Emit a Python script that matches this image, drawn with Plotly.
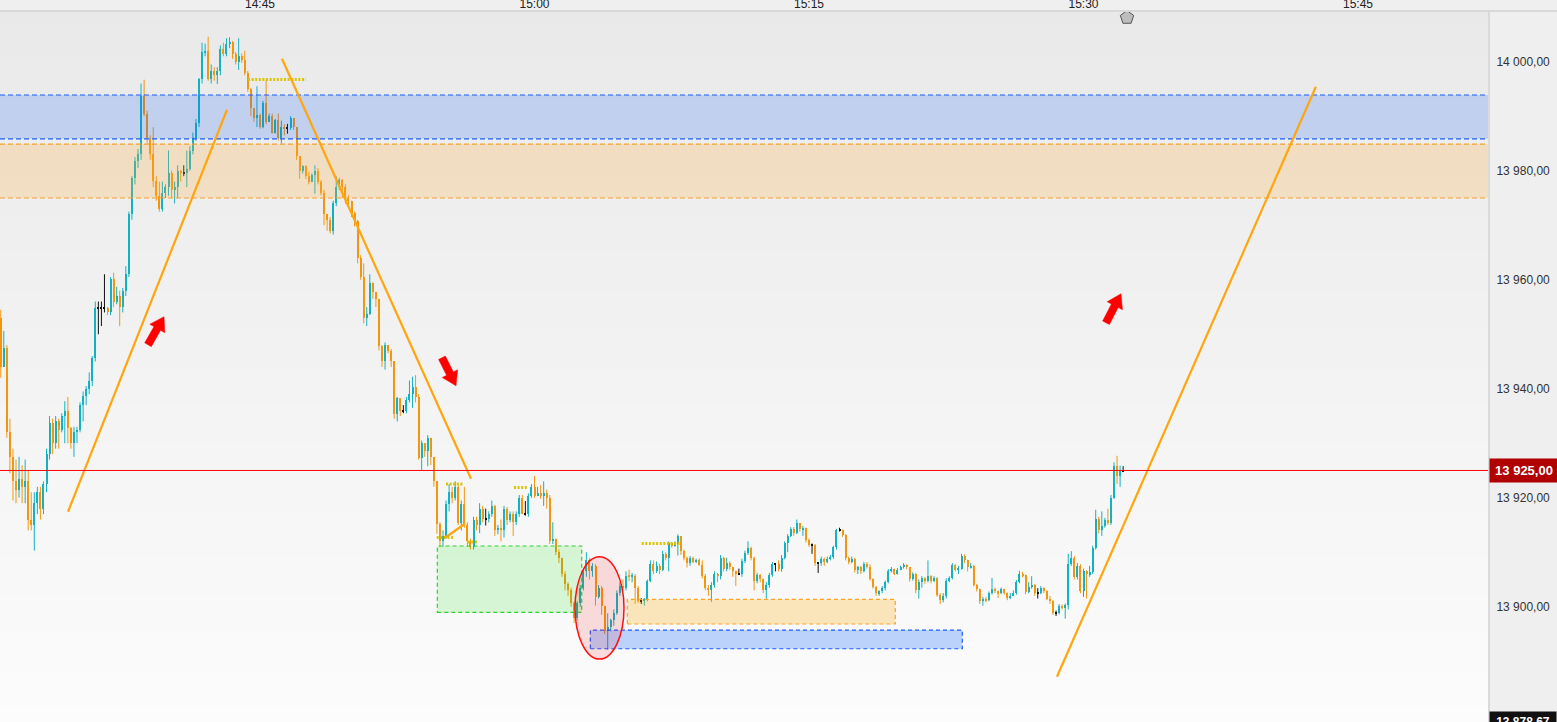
import math
import plotly.graph_objects as go
import pandas as pd

# ---------------- data (10-second candles) ----------------
start_time = "2024-03-15 14:30:50"
bar_seconds = 10
first_open = 13953.0

closes = [
    13944, 13947.5, 13932, 13927.5, 13923, 13921.5, 13923.5, 13922, 13923, 13916,
    13915, 13919, 13921, 13918, 13922.5, 13928, 13933.8, 13930, 13934, 13932.5,
    13935, 13936, 13932.8, 13930, 13932, 13932.5, 13937, 13938.7, 13940, 13941.5,
    13945.6, 13954.9, 13954.9, 13954.9, 13954.9, 13954, 13960.2, 13956, 13957, 13955,
    13958, 13961, 13972, 13978.7, 13981.8, 13983, 13993.8, 13990.5, 13986, 13983,
    13978.2, 13975.4, 13973, 13976, 13977, 13979.5, 13976.5, 13977, 13980, 13979.6,
    13979.6, 13980.3, 13983.7, 13986, 13988.8, 13996.9, 14001.7, 14002, 13996.9, 13998.3,
    13997.5, 13998.3, 14002.4, 14001.5, 14003.3, 14003.6, 14001.5, 14000, 14001, 14000.3,
    13998, 13995, 13991.5, 13989.7, 13990.3, 13988, 13992.5, 13989, 13990, 13987,
    13989.4, 13986, 13988, 13987.8, 13987.8, 13989.7, 13988, 13982.7, 13980, 13980.8,
    13979, 13978, 13979.2, 13980, 13978, 13976, 13972, 13971, 13969, 13974,
    13977, 13978.3, 13977, 13975, 13974.5, 13972.3, 13970.8, 13964, 13960.5, 13953,
    13953.8, 13959.4, 13957.8, 13956.5, 13947.8, 13945, 13948, 13947, 13945, 13935.4,
    13938.3, 13936, 13936, 13938, 13939, 13940.3, 13938.5, 13927.3, 13930, 13928.5,
    13931, 13927.5, 13923, 13915.2, 13912, 13913, 13918.9, 13921, 13920, 13922,
    13915.4, 13918.9, 13915, 13912, 13911, 13916, 13915, 13918, 13916.1, 13916.1,
    13917, 13918.5, 13914, 13914.5, 13914, 13918, 13916, 13917, 13915.5, 13917,
    13920, 13917.1, 13917.1, 13920.3, 13922, 13920.4, 13920.9, 13920.3, 13920.9, 13920,
    13912, 13912.5, 13910, 13909, 13906, 13904.2, 13903, 13900.7, 13898, 13900.7,
    13903.5, 13906.5, 13908.5, 13906.5, 13907.5, 13901.7, 13903.5, 13900.2, 13895.6, 13896.2,
    13897.5, 13898.9, 13902.5, 13903.8, 13903.5, 13905.7, 13905.5, 13905.7, 13903.5, 13901.1,
    13901.1, 13901.3, 13904.8, 13907.9, 13906.5, 13907.5, 13906.8, 13909.7, 13909, 13911.7,
    13911.2, 13911.5, 13912.9, 13910.2, 13909, 13908, 13909, 13908.3, 13908.5, 13907.7,
    13905.7, 13903.5, 13903, 13904, 13906, 13905.7, 13909, 13907, 13908, 13907.2,
    13906.5, 13906, 13906, 13908.4, 13909.9, 13910.8, 13909, 13904.8, 13905.9, 13905,
    13903, 13904, 13905.9, 13907.8, 13907.8, 13907, 13909, 13911.7, 13913, 13914.3,
    13913.5, 13915.3, 13914.2, 13914.5, 13912.3, 13911.4, 13911.4, 13908, 13908, 13908.8,
    13908.2, 13908.8, 13909.2, 13910.9, 13914, 13914, 13913.2, 13909, 13908.3, 13908.8,
    13906.8, 13907.2, 13906.5, 13907.8, 13907.3, 13905, 13903.7, 13902.5, 13902.8, 13903.5,
    13904.5, 13906.5, 13906.9, 13906, 13906.7, 13907.2, 13907.6, 13907.2, 13905, 13906,
    13903, 13904.5, 13905.2, 13904.7, 13905.6, 13904.8, 13905.2, 13902.2, 13901.2, 13902,
    13904.8, 13905.2, 13907.6, 13906.8, 13907, 13909.4, 13908.5, 13907.2, 13907.5, 13904,
    13903.2, 13901, 13901.5, 13901.2, 13902.5, 13903.2, 13902.8, 13902.5, 13903.2, 13902.5,
    13901.6, 13902, 13902.5, 13904.5, 13906, 13905.8, 13902.7, 13903.6, 13904, 13902.5,
    13902.5, 13903.5, 13902.9, 13901.5, 13901, 13898.9, 13898.9, 13900.2, 13899.8, 13900.3,
    13907.9, 13909, 13905.5, 13907.5, 13902.9, 13906.6, 13906, 13906.3, 13910.8, 13916.1,
    13914, 13914.9, 13916, 13915.4, 13920, 13925.9, 13924, 13925, 13925,
]

highs = [
    13954.5, 13950.6, 13948, 13934.5, 13929, 13927, 13927.5, 13926, 13927, 13925,
    13921, 13921, 13922, 13922, 13923, 13929, 13935, 13934.5, 13935, 13934.5,
    13935.5, 13937.7, 13938.5, 13933, 13933, 13933, 13937.5, 13939.5, 13940.5, 13943,
    13946, 13956, 13956, 13956, 13961, 13955, 13960.5, 13961.3, 13958.7, 13958,
    13958.5, 13962.5, 13972.5, 13979, 13982.5, 13984, 13996, 13996.7, 13991, 13986.5,
    13988, 13979, 13978, 13978, 13977.5, 13983.7, 13980, 13978, 13981, 13980.2,
    13981, 13983.7, 13984.5, 13987, 13989.5, 13997, 14003.5, 14003.3, 14004.6, 13999.5,
    13999, 13999, 14003, 14003.5, 14004.3, 14004.5, 14003.8, 14001.8, 14004.3, 14001.5,
    14002, 13998.3, 13995.2, 13991.5, 13995.5, 13990.5, 13992.8, 13996.8, 13990.5, 13990.5,
    13989.5, 13990.5, 13989.2, 13988.5, 13988.6, 13990, 13989.7, 13988, 13982.7, 13981,
    13981, 13979.8, 13979.5, 13981, 13980.5, 13978.3, 13976.5, 13972, 13971.5, 13974.5,
    13979, 13978.7, 13978.5, 13977.5, 13975.5, 13974.5, 13972.5, 13971, 13964.5, 13963,
    13955, 13961, 13959.5, 13957.8, 13956.5, 13948, 13948.5, 13948, 13947.3, 13945,
    13938.5, 13938.3, 13937, 13938.5, 13941.5, 13942.2, 13942.5, 13939, 13930.5, 13930,
    13931.5, 13931, 13927.5, 13923, 13915.5, 13914, 13919.5, 13922.5, 13922, 13923,
    13922.5, 13919.5, 13922, 13915.5, 13912.5, 13916.5, 13916.5, 13919, 13918.5, 13918,
    13917.5, 13919.5, 13918.7, 13915, 13916, 13918.5, 13918.3, 13917.5, 13917.5, 13917.5,
    13920.5, 13920.5, 13919.4, 13920.8, 13922.5, 13924, 13922, 13922.3, 13923, 13921.5,
    13920.5, 13915.5, 13912.5, 13910.5, 13909, 13906.5, 13904.5, 13903.5, 13901, 13901,
    13904, 13907, 13910, 13909, 13908, 13907.8, 13904, 13903.8, 13900.2, 13898.8,
    13897.8, 13899.5, 13903, 13904.5, 13905, 13906.5, 13906.8, 13906.2, 13906, 13903.8,
    13901.6, 13901.6, 13905, 13908.5, 13908.5, 13908.3, 13907.9, 13910.3, 13910, 13912,
    13911.9, 13912, 13913.3, 13913, 13910.5, 13909.2, 13909.3, 13909.2, 13908.8, 13908.9,
    13908.5, 13906, 13904, 13904.5, 13906.5, 13906.2, 13909.5, 13909.2, 13909, 13908.3,
    13907.3, 13906.6, 13907, 13908.8, 13910.3, 13912, 13911, 13909.2, 13906.2, 13906,
    13905.2, 13904.5, 13906.2, 13908.2, 13908, 13908.5, 13909.5, 13912, 13913.3, 13914.6,
    13914.6, 13916, 13915.4, 13914.8, 13914.5, 13912.5, 13911.6, 13911.5, 13908.2, 13909.2,
    13909, 13909.2, 13909.5, 13911.2, 13914.3, 13914.5, 13914.2, 13913.3, 13909.2, 13909.2,
    13909, 13907.5, 13907.5, 13908.2, 13908.2, 13907.8, 13905.2, 13903.8, 13903, 13903.8,
    13904.8, 13906.9, 13907.3, 13907, 13907.1, 13907.5, 13908, 13907.8, 13907.3, 13906.3,
    13906.2, 13905, 13905.6, 13905.4, 13908.5, 13905.8, 13905.6, 13905.4, 13902.5, 13902.5,
    13905.2, 13905.6, 13908, 13907.8, 13907.5, 13909.7, 13909.6, 13908.6, 13908, 13907.7,
    13904.2, 13903.3, 13901.8, 13901.8, 13902.8, 13905.3, 13903.5, 13903, 13903.5, 13903.3,
    13902.6, 13902.5, 13903, 13904.9, 13906.6, 13906.4, 13905.9, 13904.5, 13905.6, 13904.2,
    13903.4, 13903.8, 13903.6, 13903, 13902, 13901.2, 13899.3, 13900.5, 13900.4, 13900.6,
    13909.7, 13910.2, 13909.3, 13908, 13907.8, 13907, 13906.7, 13907.5, 13911.2, 13917.8,
    13916.5, 13917.5, 13916.3, 13918, 13920.5, 13926.5, 13927.7, 13925.9, 13925.8,
]

lows = [
    13942, 13944, 13931, 13924.5, 13919.5, 13919, 13920, 13919, 13919, 13914,
    13914, 13910.3, 13917, 13916, 13917, 13921, 13927, 13928, 13929, 13929,
    13932, 13930, 13930, 13929, 13927.5, 13930, 13932, 13934, 13937, 13939,
    13940.5, 13945, 13950, 13951.5, 13954, 13953.5, 13953.5, 13955, 13955.5, 13951.5,
    13954, 13957, 13960.5, 13971, 13977.5, 13980.5, 13982, 13990, 13985, 13982,
    13977, 13974.5, 13972.5, 13972.5, 13975, 13975.4, 13975, 13974, 13975, 13978,
    13979, 13977, 13980, 13983, 13985.5, 13988, 13996, 14001, 13996.5, 13996,
    13996.5, 13995.9, 13997.5, 14001, 14001, 14002.5, 14000.5, 13999.5, 13998.5, 13999.8,
    13997.5, 13994.5, 13990, 13989, 13988, 13987.7, 13987.8, 13988.5, 13989, 13986.8,
    13986.8, 13985.5, 13985, 13986.5, 13986.8, 13987.5, 13987.5, 13982, 13978.5, 13979.5,
    13978.5, 13977.5, 13978, 13975.8, 13977.5, 13975.5, 13970, 13969, 13968.5, 13968.3,
    13973.5, 13976.5, 13975, 13974, 13973.5, 13971.5, 13969.8, 13963, 13960, 13952,
    13951.5, 13953.5, 13956.5, 13955, 13947, 13944, 13943.5, 13946.5, 13944, 13934.5,
    13934, 13935, 13935.5, 13935.5, 13937.5, 13936.5, 13937.5, 13927, 13925, 13927.5,
    13925.8, 13926, 13922, 13913.4, 13911, 13911, 13912.5, 13917.5, 13919, 13919.5,
    13915, 13914, 13914.5, 13911, 13910.5, 13910.5, 13914, 13913.5, 13915.5, 13914.9,
    13915.5, 13916.5, 13913, 13913.3, 13912, 13912.7, 13915, 13915.5, 13913, 13915,
    13916.5, 13917, 13916.7, 13916.5, 13920, 13920, 13920.3, 13919.8, 13918.5, 13918,
    13911.5, 13911.5, 13909.5, 13908, 13905.5, 13903, 13902, 13900, 13897, 13897.5,
    13900, 13903, 13905.5, 13905, 13905.5, 13900.2, 13901.5, 13898.5, 13895, 13892.1,
    13895.5, 13896.5, 13898.5, 13902, 13903, 13903, 13904.7, 13904.5, 13900.5, 13900.7,
    13900.5, 13900.2, 13901, 13904.5, 13906, 13906.2, 13906, 13906.5, 13908.5, 13906.5,
    13910.8, 13911, 13909.4, 13909.5, 13908.5, 13907.2, 13907.5, 13908, 13908, 13907.5,
    13905.2, 13903, 13902, 13900.9, 13903.5, 13904.5, 13905, 13906.5, 13906.5, 13906.8,
    13905.5, 13903.8, 13905.8, 13905.5, 13908, 13909.5, 13908.5, 13903, 13904.3, 13904.5,
    13902.5, 13901.5, 13903.5, 13905.5, 13906.5, 13906.5, 13906.4, 13908.7, 13910, 13912.8,
    13913, 13913.3, 13913.8, 13913, 13911.8, 13911, 13909.7, 13907.5, 13906.2, 13907.5,
    13907.5, 13908, 13908.5, 13908.8, 13910.5, 13913.8, 13912.8, 13908.5, 13907.8, 13908,
    13906.3, 13906, 13906, 13906.3, 13907, 13904.8, 13903.3, 13902, 13902, 13902.5,
    13903, 13904.3, 13906.3, 13905.8, 13905.9, 13906.7, 13907, 13906.9, 13904.6, 13904.8,
    13902.5, 13901.5, 13903.5, 13904.2, 13904.5, 13904.3, 13904.5, 13901.8, 13900.5, 13900.8,
    13901.5, 13904.5, 13905, 13906.5, 13906, 13906.8, 13908, 13906.5, 13907, 13903.7,
    13902.8, 13900.5, 13900.2, 13900.8, 13901, 13902.2, 13902.5, 13901.6, 13902.3, 13902.2,
    13901.2, 13901.4, 13902, 13902.2, 13904.3, 13905.4, 13902.3, 13902.5, 13903.3, 13902,
    13901.5, 13902.3, 13902.5, 13901.2, 13900.5, 13898.5, 13898.3, 13898.6, 13899.5, 13897.8,
    13899.5, 13907.5, 13905, 13905, 13902.5, 13901.8, 13901.5, 13905.5, 13906, 13910.5,
    13913.5, 13913, 13914.5, 13915, 13915, 13919.8, 13922.5, 13922, 13925,
]

current_price = 13925.0
bottom_label_value = 13878.67
axis_min, axis_max = 13878.85, 14009.31
x_start, x_end = "2024-03-15 14:30:47.5", "2024-03-15 15:52:09.5"
y_ticks_step = 20

# zones (price bands across the full chart)
band_blue = (13985.85, 13993.9)
band_orange = (13975.0, 13984.9)

# drawn trend lines: (t0, p0, t1, p1)
trend_lines = [
    ("2024-03-15 14:34:30.5", 13917.43, "2024-03-15 14:43:11.8", 13991.19),
    ("2024-03-15 14:46:12", 14000.55, "2024-03-15 14:56:31.8", 13923.49),
    ("2024-03-15 15:28:33", 13887.16, "2024-03-15 15:42:42", 13995.41),
    ("2024-03-15 14:55:06.6", 13912.66, "2024-03-15 14:56:12", 13915.23),
]
# yellow dotted level markers: (t0, t1, price)
dotted_levels = [
    ("2024-03-15 14:44:20.7", "2024-03-15 14:47:30.8", 13996.75),
    ("2024-03-15 14:55:09.8", "2024-03-15 14:56:05.6", 13922.5),
    ("2024-03-15 14:54:39.4", "2024-03-15 14:55:36.1", 13912.7),
    ("2024-03-15 14:56:21", "2024-03-15 14:56:53.8", 13911.9),
    ("2024-03-15 14:58:52.8", "2024-03-15 14:59:34.4", 13921.9),
    ("2024-03-15 15:05:51.5", "2024-03-15 15:08:02.6", 13911.6),
]
# rectangles: (t0, t1, p0, p1, fill, border)
boxes = [
    ("2024-03-15 14:54:41.3", "2024-03-15 15:02:34.8", 13898.95, 13911.14,
     "rgba(0,230,0,0.14)", "#2ed12e"),
    ("2024-03-15 15:05:04.3", "2024-03-15 15:19:43", 13896.83, 13901.34,
     "rgba(255,170,0,0.25)", "#ffa31a"),
    ("2024-03-15 15:03:03", "2024-03-15 15:23:22.6", 13892.29, 13895.72,
     "rgba(0,95,255,0.25)", "#1a5cff"),
]
ellipse = ("2024-03-15 15:02:12.8", "2024-03-15 15:04:53.4", 13890.4, 13909.17)
# red arrows: (tip time, tip price, tail offset x px, tail offset y px)
arrows = [
    ("2024-03-15 14:39:45.2", 13953.21, -16, 28),
    ("2024-03-15 14:55:42.6", 13940.55, -14, -28),
    ("2024-03-15 15:32:03", 13957.43, -15, 29),
]
now_marker = ("2024-03-15 15:32:22.6", 14008.1)

UP = "#13b2c1"
DOWN = "#f3960f"
DOJI = "#111111"
FONT = "Liberation Sans, Arial, sans-serif"

FIG_W, FIG_H = 1557, 722
M_R, M_T = 68, 11
PLOT_W, PLOT_H = FIG_W - M_R, FIG_H - M_T


def fmt(v):
    return f"{v:,.2f}".replace(",", " ").replace(".", ",")


n = len(closes)
assert len(highs) == n and len(lows) == n
times = list(pd.date_range(start_time, periods=n, freq=f"{bar_seconds}s"))
opens = [first_open] + closes[:-1]

bases, heights, colors = [], [], []
wicks = {UP: ([], []), DOWN: ([], []), DOJI: ([], [])}
for t, o, h, l, c in zip(times, opens, highs, lows, closes):
    if abs(c - o) < 0.05:
        col = DOJI
    elif c > o:
        col = UP
    else:
        col = DOWN
    lo, hi = min(o, c), max(o, c)
    if hi - lo < 0.2:
        mid = (hi + lo) / 2
        lo, hi = mid - 0.1, mid + 0.1
    bases.append(lo)
    heights.append(hi - lo)
    colors.append(col)
    wx, wy = wicks[col]
    wx += [t, t, None]
    wy += [min(l, lo), max(h, hi), None]

fig = go.Figure()

# vertical background gradient of the plotting area (heatmap layer sits below bars)
grad_rows = 48
pad = pd.Timedelta(minutes=2)
grad_y = [axis_min - 1 + (axis_max - axis_min + 2) * i / (grad_rows - 1)
          for i in range(grad_rows)]
fig.add_trace(go.Heatmap(
    x=[pd.Timestamp(x_start) - pad, pd.Timestamp(x_end) + pad],
    y=grad_y,
    z=[[i / (grad_rows - 1)] * 2 for i in range(grad_rows)],
    colorscale=[[0, "#fcfcfc"], [1, "#e9e9e9"]],
    showscale=False, zsmooth="best", hoverinfo="skip",
))

fig.add_trace(go.Bar(x=times, y=heights, base=bases, width=6600,
                     marker=dict(color=colors, line=dict(width=0)),
                     hoverinfo="skip"))

for col, (wx, wy) in wicks.items():
    fig.add_trace(go.Scatter(x=wx, y=wy, mode="lines",
                             line=dict(color=col, width=1),
                             hoverinfo="skip"))

# red block arrows drawn as filled polygons through the axes' scales
sec_span = (pd.Timestamp(x_end) - pd.Timestamp(x_start)).total_seconds()
px_per_sec = PLOT_W / sec_span
px_per_pt = PLOT_H / (axis_max - axis_min)
for t, p, ax_, ay_ in arrows:
    length = math.hypot(ax_, ay_)
    ux, uy = -ax_ / length, -ay_ / length      # tail -> tip, screen coords
    vx, vy = -uy, ux
    head_len, head_w, shaft_w = 13.5, 8.6, 3.8
    local = [(0, 0), (-head_len, head_w), (-head_len, shaft_w), (-length, shaft_w),
             (-length, -shaft_w), (-head_len, -shaft_w), (-head_len, -head_w), (0, 0)]
    px_, py_ = [], []
    for s, w in local:
        ox = s * ux + w * vx
        oy = s * uy + w * vy
        px_.append(pd.Timestamp(t) + pd.Timedelta(seconds=ox / px_per_sec))
        py_.append(p - oy / px_per_pt)
    fig.add_trace(go.Scatter(x=px_, y=py_, mode="lines", fill="toself",
                             fillcolor="#ff0000", line=dict(color="#ff0000", width=0.5),
                             hoverinfo="skip"))

fig.add_trace(go.Scatter(x=[now_marker[0]], y=[now_marker[1]], mode="markers",
                         marker=dict(symbol="pentagon", size=14, color="#bdbdbd",
                                     line=dict(color="#555555", width=1)),
                         cliponaxis=False, hoverinfo="skip"))

shapes = []
# full width bands
for (p0, p1), fill, border in [(band_blue, "rgba(0,85,255,0.18)", "#1a5cff"),
                               (band_orange, "rgba(255,172,60,0.24)", "#f5a030")]:
    shapes.append(dict(type="rect", xref="paper", x0=0, x1=1, yref="y", y0=p0, y1=p1,
                       fillcolor=fill, line=dict(width=0)))
    for p in (p0, p1):
        shapes.append(dict(type="line", xref="paper", x0=0, x1=1, yref="y", y0=p, y1=p,
                           line=dict(color=border, width=1.2, dash="5px,3px")))

for t0, t1, p0, p1, fill, border in boxes:
    shapes.append(dict(type="rect", xref="x", yref="y", x0=t0, x1=t1, y0=p0, y1=p1,
                       fillcolor=fill, line=dict(color=border, width=1.2, dash="4px,3px")))

shapes.append(dict(type="circle", xref="x", yref="y", x0=ellipse[0], x1=ellipse[1],
                   y0=ellipse[2], y1=ellipse[3], fillcolor="rgba(255,0,0,0.12)",
                   line=dict(color="#ff1010", width=1.5)))

for t0, t1, p in dotted_levels:
    shapes.append(dict(type="line", xref="x", yref="y", x0=t0, x1=t1, y0=p, y1=p,
                       line=dict(color="#dcc300", width=3, dash="2px,1.6px")))

for t0, p0, t1, p1 in trend_lines:
    shapes.append(dict(type="line", xref="x", yref="y", x0=t0, y0=p0, x1=t1, y1=p1,
                       line=dict(color="#ffa60d", width=2.2)))

# current price line
shapes.append(dict(type="line", xref="paper", x0=0, x1=1, yref="y",
                   y0=current_price, y1=current_price,
                   line=dict(color="#ff0000", width=1)))

# frame lines (top time strip and right price strip)
shapes.append(dict(type="line", xref="paper", x0=0, x1=1 + M_R / PLOT_W, yref="paper",
                   y0=1, y1=1, line=dict(color="#d9d9d9", width=2)))
shapes.append(dict(type="line", xref="paper", x0=1, x1=1, yref="paper",
                   y0=0, y1=1, line=dict(color="#d9d9d9", width=2)))

annotations = [
    dict(xref="paper", x=1, xanchor="left", yref="y", y=current_price,
         yanchor="middle", text="<b>" + fmt(current_price) + "</b>",
         showarrow=False, font=dict(family=FONT, size=13, color="white"),
         bgcolor="#b00000", width=64, height=19, borderpad=2),
    dict(xref="paper", x=1, xanchor="left", yref="y", y=13880.9,
         yanchor="top", text="<b>" + fmt(bottom_label_value) + "</b>",
         showarrow=False, font=dict(family=FONT, size=12, color="white"),
         bgcolor="#111111", width=64, height=18, borderpad=1),
]

fig.update_layout(
    width=FIG_W, height=FIG_H,
    margin=dict(l=0, r=M_R, t=M_T, b=0),
    paper_bgcolor="#efefef",
    plot_bgcolor="#f4f4f4",
    showlegend=False,
    separators=", ",
    bargap=0,
    hovermode=False,
    shapes=shapes,
    annotations=annotations,
    xaxis=dict(type="date", range=[x_start, x_end], side="top", tickformat="%H:%M",
               dtick=900000, tick0="2024-03-15 14:45:00", showgrid=False,
               zeroline=False, ticks="", showline=False, fixedrange=True,
               automargin=False,
               tickfont=dict(family=FONT, size=12, color="#222222")),
    yaxis=dict(side="right", range=[axis_min, axis_max], dtick=y_ticks_step,
               tick0=13880, tickformat=",.2f", showgrid=False, zeroline=False,
               ticks="outside", ticklen=4, tickcolor="rgba(0,0,0,0)",
               showline=False, fixedrange=True, automargin=False,
               tickfont=dict(family=FONT, size=12, color="#333333")),
)

fig.write_html(
    "out.html",
    config={"displayModeBar": False},
    post_script="document.body.style.margin='0';document.body.style.overflow='hidden';",
)
